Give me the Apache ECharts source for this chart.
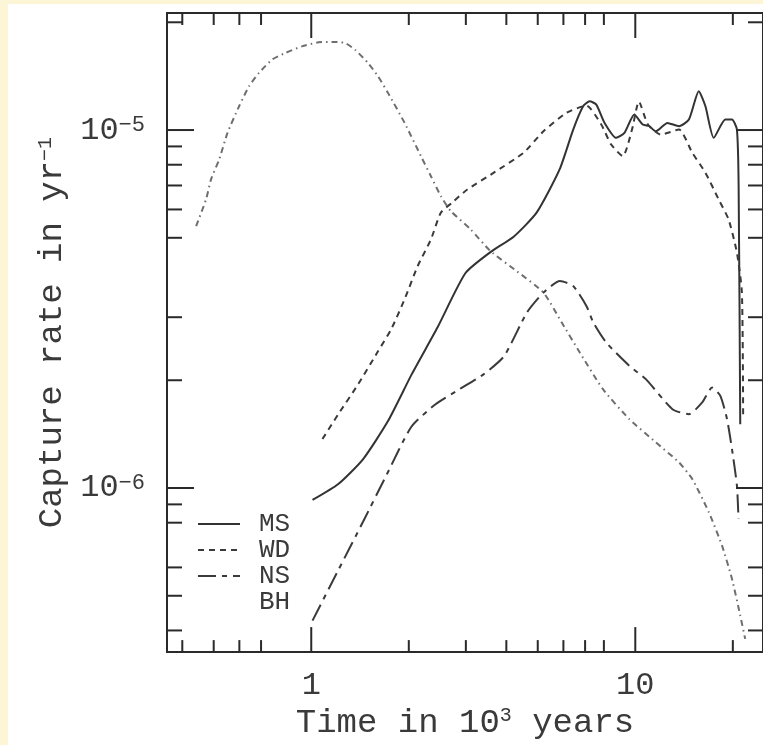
<!DOCTYPE html>
<html><head><meta charset="utf-8">
<script src="https://cdn.jsdelivr.net/npm/echarts@6/dist/echarts.min.js"></script>
<style>html,body{margin:0;padding:0;background:#fff}#c{width:763px;height:745px}</style>
</head><body><div id="c"></div>
<script>
// ---- data (time in 10^3 yr, capture rate in yr^-1) ----
const msTime = [1.009, 1.212, 1.446, 1.725, 2.043, 2.454, 2.989, 3.565, 4.222, 4.966, 5.84, 6.433, 6.902, 7.231, 7.58, 8.04, 8.73, 9.255, 9.93, 10.54, 11.04, 11.57, 12.57, 13.64, 14.64, 15.70, 16.46, 17.46, 18.95, 19.88, 20.59, 20.84, 21.08];
const msRate = [9.26e-7, 1.026e-6, 1.205e-6, 1.538e-6, 2.08e-6, 2.812e-6, 3.98e-6, 4.553e-6, 5.045e-6, 5.887e-6, 7.76e-6, 1.003e-5, 1.165e-5, 1.203e-5, 1.178e-5, 1.047e-5, 9.51e-6, 9.82e-6, 1.105e-5, 1.036e-5, 1.025e-5, 9.92e-6, 1.047e-5, 1.025e-5, 1.07e-5, 1.283e-5, 1.165e-5, 9.51e-6, 1.07e-5, 1.07e-5, 1.003e-5, 6.96e-6, 1.508e-6];

const wdTime = [1.083, 1.212, 1.396, 1.607, 1.765, 1.941, 2.131, 2.341, 2.511, 2.727, 3.031, 3.659, 4.521, 5.206, 6.136, 7.066, 7.852, 8.425, 9.15, 9.77, 10.26, 10.94, 11.99, 13.64, 14.99, 16.46, 18.08, 19.40, 20.59, 21.33, 21.52];
const wdRate = [1.37e-6, 1.608e-6, 1.95e-6, 2.41e-6, 2.777e-6, 3.367e-6, 4.17e-6, 4.95e-6, 5.875e-6, 6.28e-6, 6.82e-6, 7.60e-6, 8.64e-6, 9.92e-6, 1.117e-5, 1.17e-5, 1.036e-5, 9.11e-6, 8.45e-6, 1.003e-5, 1.201e-5, 1.036e-5, 9.71e-6, 1.003e-5, 8.64e-6, 7.60e-6, 6.40e-6, 5.63e-6, 4.54e-6, 3.515e-6, 1.557e-6];

const nsTime = [1.009, 1.217, 1.446, 1.713, 2.037, 2.419, 2.866, 3.408, 3.935, 4.628, 5.206, 5.853, 6.433, 7.066, 7.42, 8.136, 9.587, 10.78, 13.02, 14.64, 16.09, 17.26, 18.30, 19.19, 19.88, 20.59, 20.82];
const nsRate = [4.26e-7, 5.94e-7, 8.06e-7, 1.094e-6, 1.483e-6, 1.714e-6, 1.888e-6, 2.08e-6, 2.334e-6, 3.09e-6, 3.515e-6, 3.787e-6, 3.667e-6, 3.225e-6, 2.9e-6, 2.549e-6, 2.194e-6, 2.014e-6, 1.66e-6, 1.608e-6, 1.734e-6, 1.909e-6, 1.809e-6, 1.557e-6, 1.284e-6, 1.015e-6, 8.19e-7];

const bhTime = [0.4413, 0.4735, 0.4906, 0.520, 0.5515, 0.5988, 0.6427, 0.6897, 0.7574, 0.8325, 0.936, 1.053, 1.156, 1.271, 1.364, 1.497, 1.607, 1.725, 1.941, 2.181, 2.341, 2.511, 2.695, 3.103, 3.573, 4.313, 5.206, 5.923, 6.741, 7.948, 9.587, 11.57, 13.64, 14.99, 16.86, 18.52, 19.88, 21.08, 21.83];
const bhRate = [5.39e-6, 6.40e-6, 7.28e-6, 8.28e-6, 9.82e-6, 1.165e-5, 1.325e-5, 1.444e-5, 1.573e-5, 1.642e-5, 1.713e-5, 1.758e-5, 1.762e-5, 1.751e-5, 1.677e-5, 1.539e-5, 1.413e-5, 1.270e-5, 1.047e-5, 8.45e-6, 7.43e-6, 6.54e-6, 5.94e-6, 5.28e-6, 4.59e-6, 4.03e-6, 3.515e-6, 2.904e-6, 2.39e-6, 1.888e-6, 1.557e-6, 1.341e-6, 1.179e-6, 1.059e-6, 8.56e-7, 6.90e-7, 5.57e-7, 4.40e-7, 3.79e-7];

const seriesNames = ['MS', 'WD', 'NS', 'BH'];

// tick values (log axes)
const xMajorTicks = [1, 10];
const xMinorTicks = [0.4, 0.5, 0.6, 0.7, 2, 3, 4, 5, 6, 7, 8, 20];
const yMajorTicks = [1e-6, 1e-5];
const yMinorTicks = [4e-7, 5e-7, 6e-7, 8e-7, 9e-7, 2e-6, 3e-6, 5e-6, 6e-6, 7e-6, 8e-6, 9e-6, 2e-5];

// axis extents
const xMin = 0.3588, xMax = 24.78, yMin = 3.48e-7, yMax = 2.123e-5;

// ---- build ----
const zip = (a, b) => a.map((v, i) => [v, b[i]]);
const FONT = 'Liberation Mono';
const TXT = '#3a3a3a';

const tickData = [];
xMajorTicks.forEach(v => tickData.push([v, yMin, 1]));
xMinorTicks.forEach(v => tickData.push([v, yMin, 0]));
yMajorTicks.forEach(v => tickData.push([xMin, v, 3]));
yMinorTicks.forEach(v => tickData.push([xMin, v, 2]));

function renderTick(params, api) {
  const a = api.value(0), b = api.value(1), k = api.value(2);
  const st = { stroke: '#2a2a2a', lineWidth: 2 };
  if (k < 2) {
    const len = k === 1 ? 25 : 12;
    const pb = api.coord([a, yMin]);
    const pt = api.coord([a, yMax]);
    return { type: 'group', children: [
      { type: 'line', shape: { x1: pb[0], y1: pb[1], x2: pb[0], y2: pb[1] - len }, style: st },
      { type: 'line', shape: { x1: pt[0], y1: pt[1], x2: pt[0], y2: pt[1] + len }, style: st }
    ]};
  } else {
    const len = k === 3 ? 27 : 15;
    const pl = api.coord([xMin, b]);
    const pr = api.coord([xMax, b]);
    return { type: 'group', children: [
      { type: 'line', shape: { x1: pl[0], y1: pl[1], x2: pl[0] + len, y2: pl[1] }, style: st },
      { type: 'line', shape: { x1: pr[0], y1: pr[1], x2: pr[0] - len, y2: pr[1] }, style: st }
    ]};
  }
}

function isDecade(v) {
  const l = Math.log10(v);
  return Math.abs(l - Math.round(l)) < 1e-6;
}

const lineColors = ['#333333', '#3a3a3a', '#3a3a3a', '#6e6e6e'];
const lineDash = ['solid', [6, 5], [18, 6, 5, 6], [6, 4, 1.5, 4]];

const chart = echarts.init(document.getElementById('c'), null, { renderer: 'canvas' });
chart.setOption({
  animation: false,
  backgroundColor: '#ffffff',
  color: lineColors,
  graphic: [
    { type: 'rect', left: 0, top: 0, z: -10, shape: { width: 8, height: 745 }, style: { fill: '#fcf5d6' } },
    { type: 'rect', left: 0, top: 0, z: -10, shape: { width: 763, height: 4 }, style: { fill: '#fcf5d6' } }
  ],
  grid: { left: 167, top: 13, right: -5, bottom: 92, show: true, borderColor: '#2a2a2a', borderWidth: 2, backgroundColor: 'transparent' },
  legend: {
    orient: 'vertical', left: 197, top: 511, padding: 0,
    itemWidth: 42, itemHeight: 14, itemGap: 0, selectedMode: false,
    itemStyle: { opacity: 0, borderWidth: 0 },
    textStyle: { fontFamily: FONT, fontSize: 26, lineHeight: 26, color: TXT, padding: [0, 0, 0, 14] },
    data: [
      { name: 'MS' }, { name: 'WD' }, { name: 'NS' },
      { name: 'BH', lineStyle: { opacity: 0 } }
    ]
  },
  xAxis: {
    type: 'log', logBase: 10, min: xMin, max: xMax,
    name: 'Time in 10{s|3} years', nameLocation: 'middle', nameGap: 46,
    nameTextStyle: { fontFamily: FONT, fontSize: 34, lineHeight: 34, color: TXT,
      rich: { s: { fontFamily: FONT, fontSize: 20, lineHeight: 20, verticalAlign: 'top', color: TXT } } },
    axisLine: { show: false }, axisTick: { show: false }, splitLine: { show: false },
    axisLabel: { margin: 17, fontFamily: FONT, fontSize: 32, lineHeight: 32, color: TXT,
      showMinLabel: false, showMaxLabel: false,
      formatter: v => isDecade(v) ? String(Math.round(v)) : '' }
  },
  yAxis: {
    type: 'log', logBase: 10, min: yMin, max: yMax,
    name: 'Capture rate in yr{s|\u22121}', nameLocation: 'middle', nameGap: 93, nameRotate: 90,
    nameTextStyle: { fontFamily: FONT, fontSize: 34, lineHeight: 34, color: TXT,
      rich: { s: { fontFamily: FONT, fontSize: 20, lineHeight: 20, verticalAlign: 'top', color: TXT } } },
    axisLine: { show: false }, axisTick: { show: false }, splitLine: { show: false },
    axisLabel: { margin: 22, color: TXT, showMinLabel: false, showMaxLabel: false,
      formatter: v => isDecade(v) ? '{b|10}{s|\u2212' + Math.abs(Math.round(Math.log10(v))) + '}' : '',
      rich: {
        b: { fontFamily: FONT, fontSize: 32, lineHeight: 32, color: TXT },
        s: { fontFamily: FONT, fontSize: 22, lineHeight: 22, verticalAlign: 'top', color: TXT }
      } }
  },
  series: [
    { name: seriesNames[0], type: 'line', data: zip(msTime, msRate), symbol: 'none', smooth: 0.2,
      itemStyle: { color: lineColors[0] }, lineStyle: { color: lineColors[0], width: 2, type: lineDash[0] } },
    { name: seriesNames[1], type: 'line', data: zip(wdTime, wdRate), symbol: 'none', smooth: 0.2,
      itemStyle: { color: lineColors[1] }, lineStyle: { color: lineColors[1], width: 2, type: lineDash[1] } },
    { name: seriesNames[2], type: 'line', data: zip(nsTime, nsRate), symbol: 'none', smooth: 0.2,
      itemStyle: { color: lineColors[2] }, lineStyle: { color: lineColors[2], width: 2, type: lineDash[2] } },
    { name: seriesNames[3], type: 'line', data: zip(bhTime, bhRate), symbol: 'none', smooth: 0.2,
      itemStyle: { color: lineColors[3] }, lineStyle: { color: lineColors[3], width: 2, type: lineDash[3] } },
    { name: 'ticks', type: 'custom', data: tickData, renderItem: renderTick, clip: false, silent: true, z: 5 }
  ]
});
</script></body></html>
